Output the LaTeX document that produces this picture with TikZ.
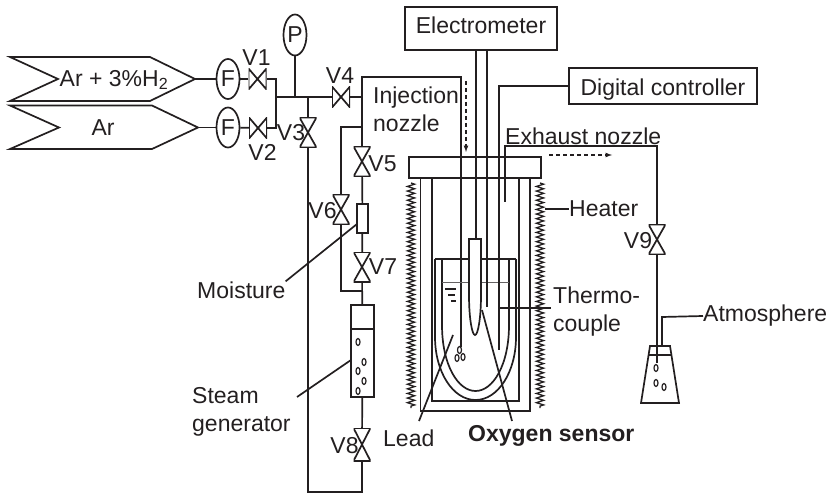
\documentclass[tikz,border=0pt]{standalone}
\usepackage{fontspec}
\setmainfont{Liberation Sans}
\usepackage{tikz}
\usetikzlibrary{shapes, arrows, positioning, calc, decorations.pathmorphing}
\definecolor{inkgray}{HTML}{231F20}
\tikzset{
    pipe/.style={draw=inkgray, line width=1.7pt},
    thinpipe/.style={draw=inkgray, line width=1.2pt},
    heater/.style={draw=inkgray, line width=1.3pt, decorate, decoration={zigzag, segment length=4.6pt, amplitude=3.6pt}},
    labelnode/.style={inner sep=0pt, text=inkgray, font=\fontsize{23}{28}\selectfont},
    leftlabel/.style={labelnode, anchor=west, align=left},
    box/.style={rectangle, pipe, inner sep=0pt, text=inkgray, font=\fontsize{23}{28}\selectfont},
    meter/.style={ellipse, pipe, inner sep=0pt, minimum width=23pt, minimum height=40pt, text=inkgray, font=\fontsize{23}{28}\selectfont},
    valveh/.style={rectangle, inner sep=0pt, minimum width=18pt, minimum height=21pt, path picture={
      \draw[pipe] (path picture bounding box.north west) -- (path picture bounding box.south east) -- (path picture bounding box.north east) -- (path picture bounding box.south west) -- cycle;}},
    valvev/.style={rectangle, inner sep=0pt, minimum width=17pt, minimum height=30pt, path picture={
      \draw[pipe] (path picture bounding box.north west) -- (path picture bounding box.north east) -- (path picture bounding box.south west) -- (path picture bounding box.south east) -- cycle;}},
    bubble/.style={ellipse, thinpipe, inner sep=0pt, minimum width=4pt, minimum height=7pt},
    flowarrow/.style={->, >=latex, thinpipe, dash pattern=on 4pt off 3pt}
}
\begin{document}
\begin{tikzpicture}[x=1pt, y=-1pt]
  \useasboundingbox (0,0) rectangle (829,494);
  \draw[pipe] (10,57) -- (150,57) -- (195,79) coordinate (tipA) -- (150,101) -- (10,101) -- (58,79) -- cycle;
  \draw[pipe] (10,105.5) -- (152,105.5) -- (198,127.5) coordinate (tipB) -- (152,149) -- (10,149) -- (59,127.5) -- cycle;
  \node[labelnode] (gasA) at (114,80) {Ar + 3\%H\textsubscript{2}};
  \node[labelnode] (gasB) at (103,128) {Ar};
  \node[meter] (F1) at (228,79) {F};
  \node[meter] (F2) at (228,127.5) {F};
  \node[meter, minimum height=41pt] (P) at (295,35) {P};
  \node[valveh] (V1) at (257.5,79) {};
  \node[valveh] (V2) at (258,128) {};
  \node[valveh] (V4) at (341,97) {};
  \node[valvev] (V3) at (308,132.5) {};
  \node[valvev] (V5) at (362,161.5) {};
  \node[valvev] (V6) at (341,209.5) {};
  \node[valvev] (V7) at (362,267) {};
  \node[valvev, minimum height=33pt] (V8) at (362,444.5) {};
  \node[valvev] (V9) at (657,239.5) {};
  \node[labelnode] (V1text) at (256.5,58) {V1};
  \node[labelnode] (V2text) at (262.5,152) {V2};
  \node[labelnode] (V3text) at (291,133) {V3};
  \node[labelnode] (V4text) at (340,76) {V4};
  \node[labelnode] (V5text) at (382.5,164) {V5};
  \node[labelnode] (V6text) at (322.5,211) {V6};
  \node[labelnode] (V7text) at (383,267) {V7};
  \node[labelnode] (V8text) at (344.5,446) {V8};
  \node[labelnode] (V9text) at (638,241) {V9};
  \node[rectangle, minimum width=11pt, minimum height=29pt, pipe] (moist) at (362.5,218.5) {};
  \node[rectangle, minimum width=23pt, minimum height=92pt, pipe] (steam) at (362.5,351) {};
  \coordinate (joinA) at (276,79);
  \coordinate (joinB) at (276,128);
  \coordinate (joinC) at (276,97);
  \coordinate (joinP) at (295,97);
  \coordinate (joinV3) at (308,97);
  \coordinate (joinV4) at (362,97);
  \coordinate (cornerTop) at (362,77);
  \coordinate (cornerInj) at (461,77);
  \coordinate (injEnd) at (461,347);
  \coordinate (teeUp) at (362,127);
  \coordinate (teeLow) at (362,291);
  \coordinate (bypassTop) at (341,127);
  \coordinate (bypassLow) at (341,291);
  \coordinate (returnA) at (308,492);
  \coordinate (returnB) at (362,492);
  \draw[pipe] (tipA) -- (F1);
  \draw[pipe] (tipB) -- (F2);
  \draw[pipe] (F1) -- (V1);
  \draw[pipe] (F2) -- (V2);
  \draw[pipe] (V1) -- (joinA) -- (joinB) -- (V2);
  \draw[pipe] (joinC) -- (V4);
  \draw[pipe] (P) -- (joinP);
  \draw[pipe] (joinV3) -- (V3);
  \draw[pipe] (V4) -- (joinV4);
  \draw[pipe] (V3) -- (returnA) -- (returnB) -- (V8);
  \draw[pipe] (V5) -- (cornerTop) -- (cornerInj) -- (injEnd);
  \draw[pipe] (teeUp) -- (bypassTop) -- (V6);
  \draw[pipe] (V6) -- (bypassLow) -- (teeLow);
  \draw[pipe] (V5) -- (moist);
  \draw[pipe] (moist) -- (V7);
  \draw[pipe] (V7) -- (steam);
  \draw[pipe] (steam) -- (V8);
  \draw[thinpipe] (351,329) -- (374,329);
  \foreach \bx/\by in {358/342, 364/362, 358/371, 364/381, 358/391}
    \node[bubble] at (\bx,\by) {};
  \node[leftlabel] (moisttext) at (197,290) {Moisture};
  \node[leftlabel, text width=110pt] (steamtext) at (192,412) {Steam\\generator};
  \node[leftlabel, text width=100pt] (injtext) at (373,109) {Injection\\nozzle};
  \coordinate (moistlead) at (357,224);
  \coordinate (steamlead) at (351,360);
  \draw[pipe] (moistlead) -- (moisttext.north east);
  \draw[pipe] (steamlead) -- (297,397) coordinate (steamend);
  \node[box, minimum width=152pt, minimum height=43pt, text height=15pt, text depth=4pt] (elec) at (481,28.5) {Electrometer};
  \node[box, minimum width=188pt, minimum height=36pt, text height=20pt, text depth=0pt] (ctrl) at (663,86) {Digital controller};
  \node[rectangle, pipe, minimum width=132pt, minimum height=21pt] (lid) at (475,167.5) {};
  \draw[pipe] (420.5,178) -- (420.5,411) -- (530,411) -- (530,178);
  \draw[pipe] (432,178) -- (432,401) -- (519,401) -- (519,178);
  \draw[heater] (411,183) -- (411,408);
  \draw[heater] (540,183) -- (540,408);
  \draw[pipe] (435,259) -- (516,259);
  \draw[pipe] (435,259) -- (435,337) .. controls (435,372) and (453,400) .. (475.5,400) .. controls (498,400) and (516,372) .. (516,337) -- (516,259);
  \draw[pipe] (442,259) -- (442,325) .. controls (442,365) and (458,391) .. (475.5,391) .. controls (493,391) and (509,365) .. (509,325) -- (509,259);
  \draw[draw=inkgray!70, line width=1pt] (442,282) -- (509,282);
  \draw[pipe] (445,289) -- (456,289);
  \draw[pipe] (448,295) -- (455,295);
  \draw[pipe] (451,301) -- (456,301);
  \coordinate (wireA) at (476,239);
  \coordinate (wireB) at (487,307);
  \coordinate (tcTop) at (499,86);
  \coordinate (tcEnd) at (499,350);
  \draw[pipe, fill=white] (469,239) -- (481,239) -- (481,295) .. controls (481,318) and (478,335) .. (475,335) .. controls (472,335) and (469,318) .. (469,295) -- cycle;
  \draw[pipe] (elec.south -| wireA) -- (wireA);
  \draw[pipe] (elec.south -| wireB) -- (wireB);
  \draw[pipe] (ctrl.west) -- (tcTop) -- (tcEnd);
  \foreach \bx/\by in {459.5/350, 457/358, 463/357}
    \node[bubble] at (\bx,\by) {};
  \coordinate (exhStart) at (505,202);
  \coordinate (exhUp) at (505,146);
  \coordinate (exhOver) at (657,146);
  \coordinate (exhDip) at (657,363);
  \draw[pipe] (exhStart) -- (exhUp) -- (exhOver) -- (V9);
  \draw[pipe] (V9) -- (exhDip);
  \draw[flowarrow] (466,81) -- (466,152);
  \draw[flowarrow] (549,155) -- (612,155);
  \node[leftlabel] (exhtext) at (505,136) {Exhaust nozzle};
  \node[leftlabel] (heattext) at (569,209) {Heater};
  \node[leftlabel, text width=110pt] (tctext) at (553,312) {Thermo-\\couple};
  \node[leftlabel] (atmtext) at (703,316) {Atmosphere};
  \node[leftlabel] (leadtext) at (383,438) {Lead};
  \node[leftlabel, font=\fontsize{23}{28}\selectfont\bfseries] (oxytext) at (468,436) {Oxygen sensor};
  \coordinate (heatlead) at (545,209);
  \coordinate (tclead) at (498,308);
  \coordinate (leadlead) at (453,335);
  \coordinate (oxylead) at (482,310);
  \draw[pipe] (heatlead) -- (heattext.west);
  \draw[pipe] (tclead) -- (551,308);
  \draw[pipe] (leadlead) -- (419,421);
  \draw[pipe] (oxylead) -- (512,421);
  \draw[pipe] (641,403) -- (679,403) -- (670,346) -- (650,346) -- cycle;
  \draw[thinpipe] (648.5,355) -- (671.5,355);
  \coordinate (flaskOut) at (662,346);
  \coordinate (flaskUp) at (662,317);
  \draw[pipe] (flaskOut) -- (flaskUp) -- (atmtext.west);
  \foreach \bx/\by in {656/368, 656/383, 664/387}
    \node[bubble] at (\bx,\by) {};
\end{tikzpicture}
\end{document}
